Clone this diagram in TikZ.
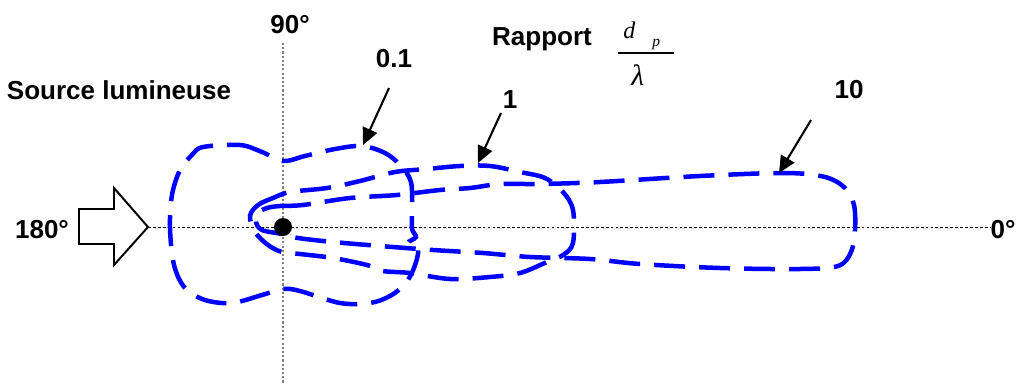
\documentclass[tikz,border=0pt]{standalone}
\usepackage{fontspec}
\setmainfont{Liberation Sans}
\newfontfamily\tms{Liberation Serif}
\usepackage{tikz}
\usetikzlibrary{arrows.meta}

\begin{document}
\begin{tikzpicture}[x=0.025cm, y=-0.025cm,
    lbl/.style={font=\fontsize{18.5}{22}\selectfont\bfseries, inner sep=0pt, anchor=base},
    sym/.style={inner sep=0pt, anchor=base west},
    lobe/.style={blue, line width=3.2pt, dash pattern=on 22pt off 10pt, smooth cycle, tension=0.55},
    ptr/.style={-{Triangle[length=12pt, width=11pt]}, line width=1.5pt},
    hax/.style={line width=0.6pt, dash pattern=on 2pt off 1.5pt},
    vax/.style={gray, line width=1pt, dash pattern=on 1.5pt off 1.5pt}]
  \useasboundingbox (0,0) rectangle (1020,383);

  \node[lbl] (src) at (119,99) {Source lumineuse};
  \node[lbl] (l90) at (290,33) {90°};
  \node[lbl] (l180) at (42,238) {180°};
  \node[lbl] (l0) at (1003,238) {0°};
  \node[lbl] (rap) at (542,45) {Rapport};
  \node[sym, font=\fontsize{17}{20}\selectfont\tms\itshape] (fd) at (623,38) {d};
  \node[sym, font=\fontsize{11}{13}\selectfont\tms\itshape] (fp) at (652,46) {p};
  \node[sym, font=\fontsize{21}{24}\selectfont\tms\itshape] (flam) at (631,85) {λ};
  \draw[line width=0.8pt] (618,53) -- (674,53);
  \node[lbl] (l01) at (394,67) {0.1};
  \node[lbl] (l1) at (510,108) {1};
  \node[lbl] (l10) at (849,98) {10};

  \coordinate (tip) at (148,227);
  \coordinate (vtop) at (283,43);
  \coordinate (vbot) at (283,383);
  \draw[line width=1.4pt, fill=white] (79,209) -- (114,209) -- (114,188) -- (tip)
    -- (114,265) -- (114,244) -- (79,244) -- cycle;
  \draw[hax] (tip) -- (tip -| l0.west);
  \draw[vax] (vtop) -- (vbot);

  \draw[lobe] plot coordinates {(203,147) (240,145) (262,152) (283,161) (305,156) (335,149)
    (362,146) (385,153) (400,165) (411,182) (412,212) (412,229) (416,237) (408,243) (418,250)
    (414,268) (405,284) (390,296) (370,303) (340,303) (300,291) (283,289) (262,295) (232,303)
    (205,300) (185,288) (174,265) (170,228) (172,195) (180,170) (192,155)};
  \draw[lobe] plot coordinates {(250,216) (258,205) (273,198) (290,192) (327,188) (360,181)
    (395,172) (427,169) (460,166) (490,166) (520,172) (545,178) (563,192) (573,210) (573,243)
    (563,255) (547,262) (520,273) (490,277) (450,279) (410,273) (383,271) (367,265) (333,258)
    (300,254) (282,252) (268,245) (255,232)};
  \draw[lobe] plot coordinates {(267,208) (280,206) (303,205) (350,198) (397,195) (440,190)
    (470,188) (500,184) (540,184) (600,182) (700,176) (785,173) (825,177) (845,188) (854,205)
    (855,230) (851,252) (838,266) (800,269) (720,268) (640,264) (590,259) (530,257) (483,253)
    (433,250) (380,246) (333,242) (298,238) (282,234) (262,230) (256,222) (258,213)};

  \node[circle, fill=black, inner sep=0pt, minimum size=0.45cm] (dot) at (283,227) {};

  \coordinate (t01) at (363,145);
  \coordinate (s01) at (389,88);
  \coordinate (t1) at (478,163);
  \coordinate (s1) at (501,113);
  \coordinate (t10) at (779,173);
  \coordinate (s10) at (811,120);
  \draw[ptr] (s01) -- (t01);
  \draw[ptr] (s1) -- (t1);
  \draw[ptr] (s10) -- (t10);
\end{tikzpicture}
\end{document}
